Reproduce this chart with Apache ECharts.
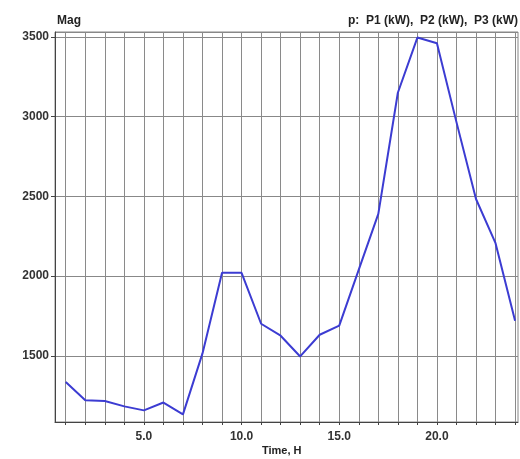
<!DOCTYPE html>
<html>
<head>
<meta charset="utf-8">
<script src="https://cdn.jsdelivr.net/npm/echarts@6/dist/echarts.min.js"></script>
<style>
  html, body { margin: 0; padding: 0; background: #fff; }
  #chart { width: 520px; height: 459px; }
</style>
</head>
<body>
<div id="chart"></div>
<script>
// hour of day and the measured magnitude (kW)
const hours = [1, 2, 3, 4, 5, 6, 7, 8, 9, 10, 11, 12, 13, 14, 15, 16, 17, 18, 19, 20, 21, 22, 23, 24];
const mag = [1336, 1221, 1217, 1183, 1158, 1207, 1133, 1515, 2020, 2020, 1701, 1626, 1496, 1632, 1689, 2040, 2390, 3149, 3495, 3459, 2965, 2483, 2206, 1720];
const xLabels = [5, 10, 15, 20];

const chart = echarts.init(document.getElementById('chart'));

const font = { fontFamily: 'Liberation Sans, Arial', fontWeight: 'bold', fontSize: 12, color: '#333' };

const option = {
  animation: false,
  grid: { left: 55, right: 2, top: 32, bottom: 37, show: true, borderColor: '#888', borderWidth: 1 },
  graphic: [
    { type: 'text', left: 57, top: 15, style: { text: 'Mag', fill: '#222', font: 'bold 12px Liberation Sans' } },
    { type: 'text', right: 2, top: 15, style: { text: 'p:  P1 (kW),  P2 (kW),  P3 (kW)', fill: '#222', font: 'bold 12px Liberation Sans' } },
    { type: 'text', left: 262, top: 445, style: { text: 'Time, H', fill: '#222', font: 'bold 11px Liberation Sans' } }
  ],
  xAxis: {
    type: 'value',
    min: 0.45,
    max: 24.15,
    axisLine: { lineStyle: { color: '#444' } },
    axisTick: { show: true, customValues: hours, length: 3, lineStyle: { color: '#444' } },
    axisLabel: Object.assign({ customValues: xLabels, margin: 9, formatter: v => v.toFixed(1) }, font),
    splitLine: { show: false }
  },
  yAxis: {
    type: 'value',
    min: 1085,
    max: 3530,
    splitNumber: 5,
    axisLine: { show: true, lineStyle: { color: '#444' } },
    axisTick: { show: true, length: 4, lineStyle: { color: '#444' } },
    axisLabel: Object.assign({ margin: 6, showMinLabel: false, showMaxLabel: false, formatter: v => String(v) }, font),
    splitLine: { show: true, lineStyle: { color: '#888', width: 1 } }
  },
  series: [{
    type: 'line',
    data: hours.map((h, i) => [h, mag[i]]),
    symbol: 'none',
    lineStyle: { color: '#3c3cd2', width: 2 },
    z: 5,
    markLine: {
      silent: true,
      symbol: 'none',
      label: { show: false },
      lineStyle: { color: '#8a8a8a', type: 'solid', width: 1 },
      data: hours.map(h => ({ xAxis: h }))
    }
  }]
};

chart.setOption(option);
</script>
</body>
</html>
